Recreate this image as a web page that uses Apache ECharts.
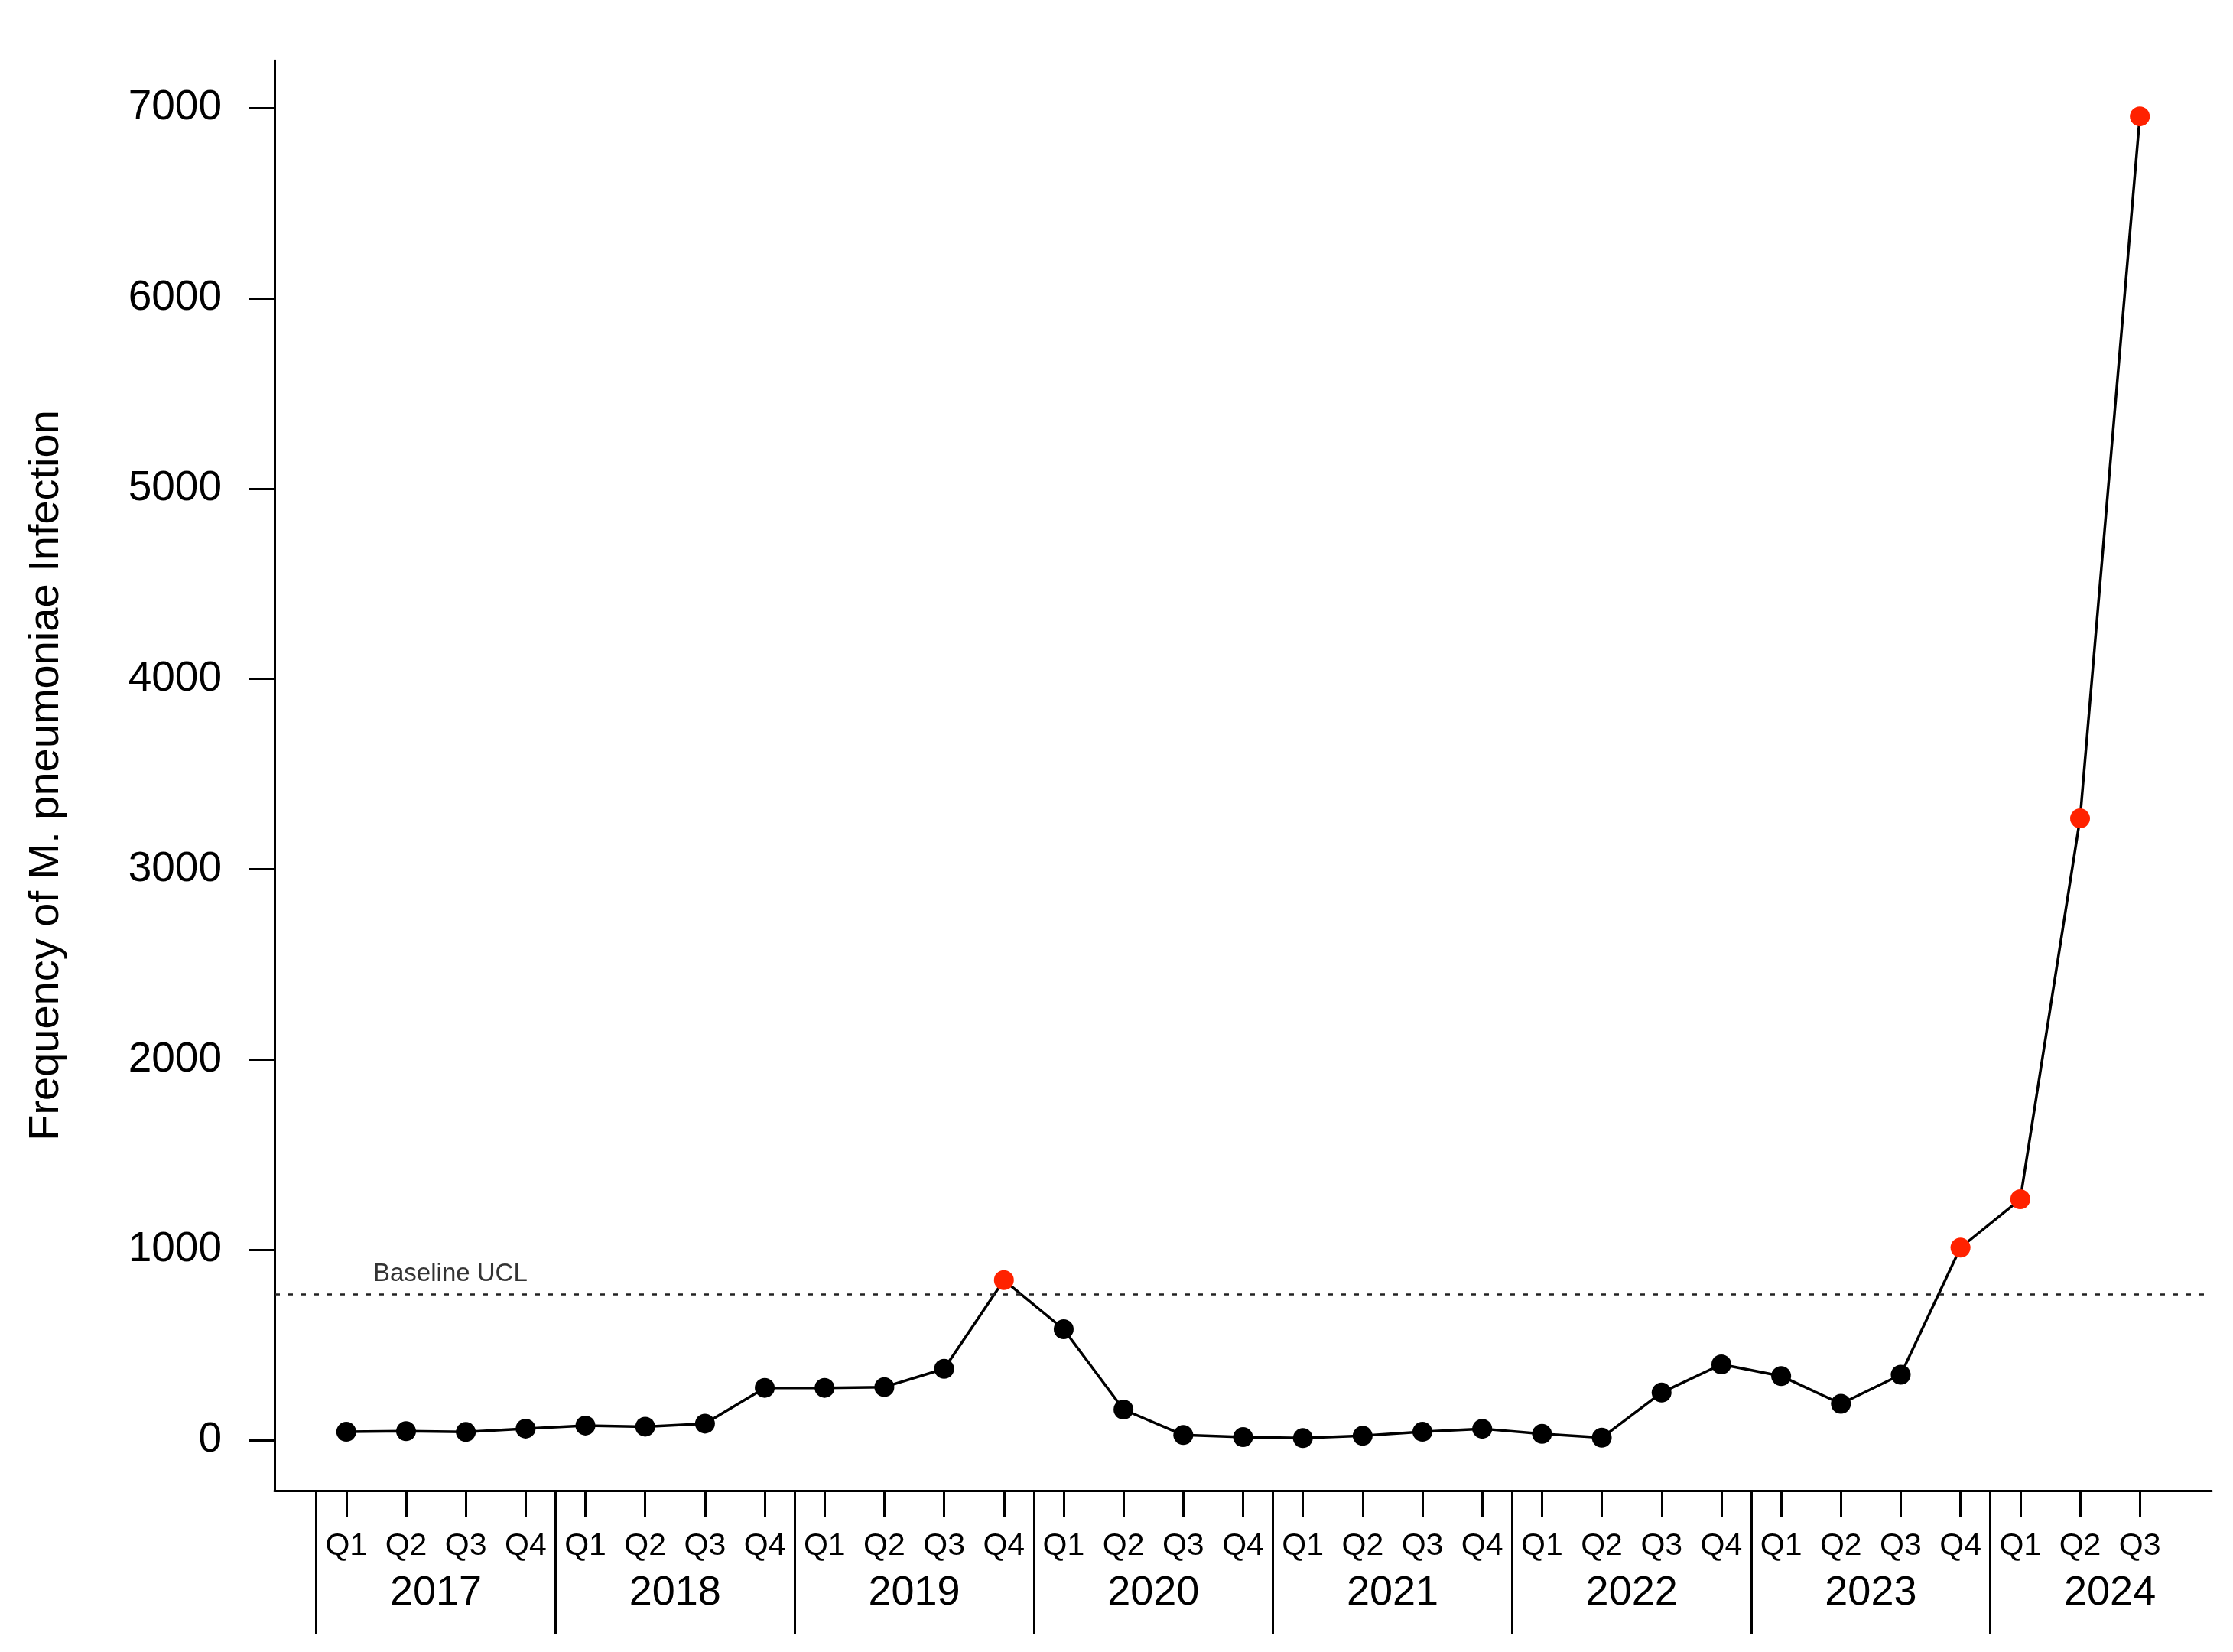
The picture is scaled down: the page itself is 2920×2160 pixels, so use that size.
<!DOCTYPE html>
<html>
<head>
<meta charset="utf-8">
<script src="https://cdn.jsdelivr.net/npm/echarts@6/dist/echarts.min.js"></script>
<style>
html,body{margin:0;padding:0;background:#fff;}
#chart{width:2920px;height:2160px;}
</style>
</head>
<body>
<div id="chart"></div>
<script>
// ---- data ----
const quarterLabels = ['Q1','Q2','Q3','Q4','Q1','Q2','Q3','Q4','Q1','Q2','Q3','Q4','Q1','Q2','Q3','Q4',
  'Q1','Q2','Q3','Q4','Q1','Q2','Q3','Q4','Q1','Q2','Q3','Q4','Q1','Q2','Q3'];
const yearLabels = ['2017','2018','2019','2020','2021','2022','2023','2024'];
const frequency = [44,47,43,61, 77,71,87,275, 275,279,375,841, 583,161,27,16,
  11,23,44,60, 33,13,250,398, 337,191,344,1012, 1266,3267,6956];
const baselineUCL = 766;
const yTickValues = [0,1000,2000,3000,4000,5000,6000,7000];

// ---- derived positions for axes ----
const qIdx = quarterLabels.map((q,i)=>i);
const yearCenters = yearLabels.map((y,k)=>4*k+1.5);
const yearSeparators = yearLabels.map((y,k)=>4*k-0.5);

const FONT = "'Liberation Sans', Arial, Helvetica, sans-serif";
const chart = echarts.init(document.getElementById('chart'));

const pts = frequency.map((v,i)=>({
  value:[i,v],
  itemStyle:{color: v > baselineUCL ? '#ff2200' : '#000000'}
}));

chart.setOption({
  animation:false,
  backgroundColor:'#ffffff',
  grid:{left:359,right:28,top:79,bottom:211,containLabel:false},
  xAxis:[{
    type:'value', min:-1.2, max:31.2, position:'bottom',
    axisLine:{show:true,onZero:false,lineStyle:{color:'#000',width:3}},
    axisTick:{show:true,customValues:qIdx,length:35,lineStyle:{color:'#000',width:3}},
    axisLabel:{show:true,customValues:qIdx,margin:73,verticalAlign:'middle',
      formatter:(v)=>quarterLabels[Math.round(v)]||'',
      fontFamily:FONT,fontSize:41,color:'#000'},
    splitLine:{show:false}
  },{
    type:'value', min:-1.2, max:31.2, position:'bottom', gridIndex:0,
    axisLine:{show:false,onZero:false},
    axisTick:{show:true,customValues:yearSeparators,length:188,lineStyle:{color:'#000',width:3}},
    axisLabel:{show:true,customValues:yearCenters,margin:134,verticalAlign:'middle',
      formatter:(v)=>yearLabels[Math.round((v-1.5)/4)]||'',
      fontFamily:FONT,fontSize:54,color:'#000'},
    splitLine:{show:false}
  }],
  yAxis:{
    type:'value', min:-265, max:7250,
    axisLine:{show:true,onZero:false,lineStyle:{color:'#000',width:3}},
    axisTick:{show:true,customValues:yTickValues,length:34,lineStyle:{color:'#000',width:3}},
    axisLabel:{show:true,customValues:yTickValues,margin:69,
      formatter:(v)=>String(Math.round(v)),
      fontFamily:FONT,fontSize:55,color:'#000'},
    splitLine:{show:false},
    name:'Frequency of M. pneumoniae Infection',
    nameLocation:'middle', nameRotate:90, nameGap:270,
    nameTextStyle:{fontFamily:FONT,fontSize:56,color:'#000'}
  },
  series:[{
    type:'line',
    xAxisIndex:0,
    data:pts,
    symbol:'circle', symbolSize:26,
    lineStyle:{color:'#000',width:3.5},
    z:3,
    markLine:{
      silent:true, symbol:['none','none'],
      lineStyle:{color:'#222',width:2.5,type:[7,10]},
      label:{show:true,position:'insideStartTop',formatter:'Baseline UCL',
        fontFamily:FONT,fontSize:33,color:'#333',distance:[129,10]},
      data:[{yAxis:baselineUCL}]
    }
  }]
});
</script>
</body>
</html>
